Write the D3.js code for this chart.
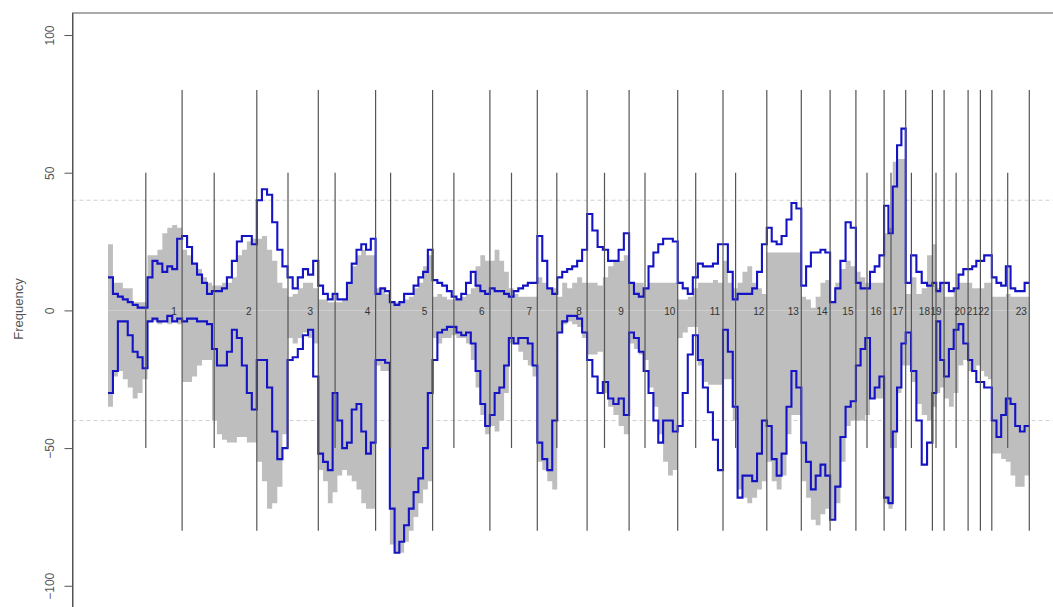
<!DOCTYPE html>
<html>
<head>
<meta charset="utf-8">
<script src="https://cdn.jsdelivr.net/npm/d3@7"></script>
<style>
  body { margin: 0; background: #fff; }
  svg { display: block; font-family: "Liberation Sans", Arial, sans-serif; }
</style>
</head>
<body>
<svg id="chart" width="1053" height="607"></svg>
<script>
// chromosome layout (length and centromere offset, same units)
var chromNames = ['1','2','3','4','5','6','7','8','9','10','11','12','13','14','15','16','17','18','19','20','21','22','23'];
var chromLength = [247,249,205,191,190,191,158,166,140,162,151,146,115,96,86,94,72,89,39,80,41,38,125];
var centromere = [126,107,104,56,50,71,72,65,58,53,60,42,null,null,null,37,23,19,12,40,null,null,53];

var yTicks = [-100, -50, 0, 50, 100];
var refLines = [40, -40];

// frequency per chromosome, bins spread evenly along each chromosome
var grayGain = [
	[24,10,10,8,8,3,3,3,20,20,22,28,30,31,30],
	[22,20,17,15,12,10,9,9,10,10,12,20,22,25,26],
	[26,27,22,18,10,8,5,6,8,10,10,8],
	[4,4,3,3,3,4,10,16,20,22,20,20],
	[8,8,6,3,3,3,4,5,8,10,16,20],
	[5,6,5,4,4,4,5,6,8,16,20,18],
	[18,22,18,14,8,6,5,5,5,5],
	[12,10,8,8,5,10,8,10,12,10],
	[10,10,9,12,16,18,18,20],
	[10,10,10,8,10,10,10,10,10,10],
	[4,4,5,8,10,10,10,11,10],
	[18,10,8,10,14,16,10,8,6],
	[21,21,21,21,21,21,21],
	[5,4,1,5,10,11],
	[3,10,15,18,16],
	[14,12,10,10,10,10],
	[28,30,54,55,55],
	[6,12,6,8,20],
	[24,8,10],
	[5,5,8,10,10],
	[10,8,8],
	[8,10,10],
	[5,5,5,6,5,5,5,5]
];
var grayLoss = [
	[-35,-24,-22,-25,-28,-32,-30,-25,-4,-4,-5,-4,-5,-4,-5],
	[-26,-26,-24,-20,-18,-18,-40,-45,-47,-48,-48,-46,-46,-48,-48],
	[-55,-62,-72,-70,-64,-45,-10,-12,-10,-8,-10,-12],
	[-58,-62,-70,-66,-60,-58,-60,-62,-65,-70,-72,-72],
	[-20,-22,-22,-85,-88,-88,-84,-80,-75,-70,-65,-62],
	[-10,-12,-10,-10,-9,-10,-10,-12,-18,-28,-38,-45],
	[-42,-44,-40,-30,-12,-12,-15,-18,-20,-24],
	[-55,-58,-62,-65,-8,-5,-4,-5,-6,-10],
	[-16,-16,-15,-30,-35,-38,-42,-45],
	[-12,-14,-16,-18,-28,-35,-45,-55,-60,-58],
	[-10,-8,-6,-6,-20,-26,-27,-27,-27],
	[-25,-25,-40,-65,-68,-70,-68,-65,-62],
	[-55,-62,-65,-60,-45,-38,-38],
	[-62,-68,-76,-78,-74,-72],
	[-76,-70,-55,-42,-40],
	[-40,-40,-38,-32,-32,-32],
	[-70,-72,-50,-30,-20],
	[-20,-26,-34,-38,-40],
	[-35,-30,-28],
	[-32,-35,-30,-20,-18],
	[-22,-22,-20],
	[-22,-24,-25],
	[-52,-52,-54,-55,-60,-64,-64,-60]
];
var blueGain = [
	[12,6,5,4,3,2,1,1,12,18,17,14,16,15,26],
	[27,23,17,13,10,6,7,7,8,12,18,25,27,27,24],
	[40,44,42,32,22,16,12,8,12,15,13,18],
	[9,6,4,6,4,4,10,17,22,24,22,26],
	[6,8,7,3,2,3,6,6,9,12,14,22],
	[11,10,9,7,5,4,6,10,14,9,7,6],
	[8,7,7,6,5,7,8,9,10,10],
	[27,18,8,6,12,14,15,16,18,22],
	[35,29,23,22,18,18,22,28],
	[10,6,5,8,16,21,24,26,26,25],
	[10,8,6,12,17,16,16,17,24],
	[24,14,4,6,6,6,8,14,24],
	[30,25,24,27,33,39,37],
	[9,16,21,21,22,21],
	[3,8,18,32,30],
	[10,8,8,14,16,20],
	[38,28,45,60,66],
	[10,20,14,10,9],
	[10,7,10],
	[10,7,8,13,15],
	[15,16,18],
	[18,20,20],
	[12,10,9,16,8,7,7,10]
];
var blueLoss = [
	[-30,-22,-4,-4,-9,-15,-17,-21,-4,-3,-4,-4,-2,-4,-3],
	[-4,-3,-3,-4,-4,-5,-14,-20,-20,-15,-7,-10,-20,-30,-36],
	[-18,-18,-28,-44,-54,-50,-18,-17,-14,-9,-7,-24],
	[-52,-55,-58,-30,-40,-50,-48,-36,-34,-44,-52,-48],
	[-18,-18,-19,-72,-88,-84,-78,-72,-66,-61,-50,-30],
	[-18,-8,-7,-6,-6,-8,-9,-8,-12,-22,-34,-42],
	[-38,-30,-28,-20,-10,-12,-10,-10,-12,-20],
	[-48,-54,-58,-40,-8,-4,-2,-2,-3,-8],
	[-18,-24,-30,-26,-32,-34,-32,-38],
	[-8,-10,-15,-22,-30,-40,-48,-40,-40,-44],
	[-42,-30,-16,-9,-18,-28,-37,-47,-58],
	[-7,-15,-35,-68,-60,-60,-62,-52,-40],
	[-42,-54,-60,-52,-35,-22,-28],
	[-48,-55,-65,-60,-56,-60],
	[-76,-64,-46,-35,-33],
	[-20,-14,-10,-32,-28,-24],
	[-68,-70,-44,-28,-12],
	[-8,-22,-40,-56,-48],
	[-30,-4,-18],
	[-24,-14,-7,-5,-12],
	[-18,-22,-26],
	[-26,-28,-28],
	[-40,-46,-38,-32,-34,-42,-44,-42]
];

var svg = d3.select('#chart'),
	boxLeft = 72.5,
	total = d3.sum(chromLength),
	chromStart = [0].concat(Array.from(d3.cumsum(chromLength)).slice(0, -1));

var scaleX = d3.scaleLinear().domain([0, total]).range([108, 1029.3]);
var scaleY = d3.scaleLinear().domain([-108, 108]).range([607.8, 13]);

// turn per-chromosome bins into step points
function steps(series) {
	var pts = [];
	series.forEach(function (vals, c) {
		var s = chromStart[c], L = chromLength[c];
		vals.forEach(function (v, i) { pts.push({ pos: s + i * L / vals.length, v: v }); });
		pts.push({ pos: s + L, v: vals[vals.length - 1] });
	});
	return pts;
}

// dashed reference lines
svg.append('g').selectAll('line')
	.data(refLines).enter().append('line')
	.attr('x1', boxLeft).attr('x2', 1053)
	.attr('y1', function (d) { return scaleY(d); })
	.attr('y2', function (d) { return scaleY(d); })
	.attr('stroke', '#cfcfcf')
	.attr('stroke-dasharray', '4,3');

var area = d3.area().curve(d3.curveStepAfter)
	.x(function (d) { return scaleX(d.pos); })
	.y0(scaleY(0))
	.y1(function (d) { return scaleY(d.v); });

svg.append('path').datum(steps(grayGain)).attr('d', area).attr('fill', '#bebebe');
svg.append('path').datum(steps(grayLoss)).attr('d', area).attr('fill', '#bebebe');

var line = d3.line().curve(d3.curveStepAfter)
	.x(function (d) { return scaleX(d.pos); })
	.y(function (d) { return scaleY(d.v); });

[blueGain, blueLoss].forEach(function (s) {
	svg.append('path').datum(steps(s))
		.attr('d', line)
		.attr('fill', 'none')
		.attr('stroke', '#1414c4')
		.attr('stroke-width', 2.1);
});

// chromosome boundaries (long) and centromeres (short)
var ends = chromStart.map(function (s, i) { return s + chromLength[i]; });
svg.append('g').selectAll('line')
	.data(ends).enter().append('line')
	.attr('x1', function (d) { return scaleX(d); })
	.attr('x2', function (d) { return scaleX(d); })
	.attr('y1', scaleY(80)).attr('y2', scaleY(-80))
	.attr('stroke', '#555').attr('stroke-width', 1.2);

var cents = centromere.map(function (c, i) { return c == null ? null : chromStart[i] + c; })
	.filter(function (d) { return d != null; });
svg.append('g').selectAll('line')
	.data(cents).enter().append('line')
	.attr('x1', function (d) { return scaleX(d); })
	.attr('x2', function (d) { return scaleX(d); })
	.attr('y1', scaleY(50)).attr('y2', scaleY(-50))
	.attr('stroke', '#555').attr('stroke-width', 1.2);

// chromosome labels sit just left of each chromosome's end
svg.append('g').selectAll('text')
	.data(chromNames).enter().append('text')
	.attr('x', function (d, i) { return scaleX(ends[i]) - 8; })
	.attr('y', scaleY(0) + 1)
	.attr('dy', '0.35em')
	.attr('text-anchor', 'middle')
	.attr('font-size', 10)
	.attr('fill', '#333')
	.text(function (d) { return d; });

// box (only top and left edges are inside the picture)
svg.append('rect')
	.attr('x', boxLeft).attr('y', scaleY(108))
	.attr('width', 1100).attr('height', scaleY(-108) - scaleY(108))
	.attr('fill', 'none').attr('stroke', '#555');

var yAxis = svg.append('g')
	.attr('transform', 'translate(' + boxLeft + ',0)')
	.call(d3.axisLeft(scaleY).tickValues(yTicks).tickSize(8).tickSizeOuter(0));
yAxis.select('.domain').attr('stroke', '#555');
yAxis.selectAll('.tick line').attr('stroke', '#555');
yAxis.selectAll('.tick text')
	.attr('x', null).attr('dy', '0.35em')
	.attr('transform', 'translate(-22.5,0) rotate(-90)')
	.attr('text-anchor', 'middle')
	.attr('font-size', 12)
	.attr('font-family', '"Liberation Sans", Arial, sans-serif')
	.attr('fill', '#555');

svg.append('text')
	.attr('transform', 'translate(18,309) rotate(-90)')
	.attr('dy', '0.35em')
	.attr('text-anchor', 'middle')
	.attr('font-size', 13)
	.attr('fill', '#555')
	.text('Frequency');
</script>
</body>
</html>
